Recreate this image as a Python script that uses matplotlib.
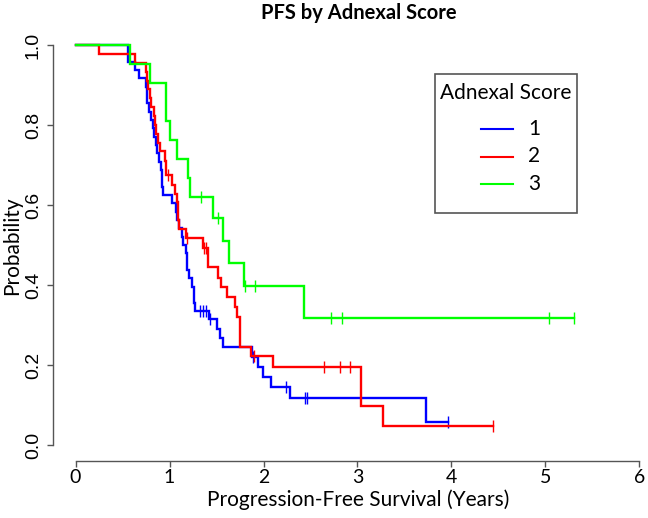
import numpy as np
import matplotlib
matplotlib.use("Agg")
import matplotlib.pyplot as plt
from matplotlib.patches import Rectangle
from matplotlib.lines import Line2D

# Kaplan-Meier step curves (time in years, survival after each drop)
blue_t = [0.56, 0.635, 0.68, 0.745, 0.755, 0.765, 0.78, 0.80, 0.82, 0.84, 0.855, 0.87,
          0.885, 0.905, 0.915, 0.925, 0.935, 1.03, 1.065, 1.08, 1.10, 1.135, 1.14, 1.17,
          1.185, 1.21, 1.24, 1.265, 1.275, 1.425, 1.50, 1.535, 1.565, 1.875, 1.94, 1.99,
          2.075, 2.28, 3.73]
blue_s = [0.958, 0.9375, 0.917, 0.896, 0.875, 0.854, 0.833, 0.8125, 0.792, 0.771, 0.75,
          0.729, 0.708, 0.6875, 0.667, 0.646, 0.625, 0.604, 0.583, 0.5625, 0.542, 0.521,
          0.50, 0.479, 0.4375, 0.417, 0.396, 0.354, 0.336, 0.315, 0.29, 0.268, 0.244,
          0.221, 0.195, 0.171, 0.146, 0.117, 0.058]
blue_cens = [1.32, 1.355, 1.39, 1.435, 1.89, 2.234, 2.44, 2.465, 3.96]

red_t = [0.25, 0.63, 0.745, 0.76, 0.77, 0.787, 0.80, 0.83, 0.845, 0.858, 0.875, 0.894,
         0.95, 0.96, 1.03, 1.055, 1.075, 1.09, 1.105, 1.17, 1.354, 1.407, 1.514, 1.55,
         1.61, 1.70, 1.72, 1.755, 1.87, 2.10, 3.04, 3.27]
red_s = [0.978, 0.956, 0.933, 0.911, 0.889, 0.867, 0.844, 0.822, 0.80, 0.778, 0.756,
         0.735, 0.711, 0.674, 0.65, 0.628, 0.607, 0.563, 0.540, 0.517, 0.493, 0.444,
         0.418, 0.395, 0.370, 0.345, 0.320, 0.246, 0.222, 0.194, 0.097, 0.048]
red_cens = [0.98, 1.184, 1.37, 1.39, 1.90, 2.64, 2.81, 2.92, 4.44]

green_t = [0.574, 0.787, 0.965, 1.00, 1.078, 1.195, 1.22, 1.46, 1.567, 1.628, 1.787, 2.436]
green_s = [0.952, 0.905, 0.810, 0.762, 0.714, 0.667, 0.619, 0.567, 0.510, 0.454, 0.397, 0.3175]
green_cens = [1.33, 1.52, 1.80, 1.91, 2.72, 2.84, 5.04, 5.30]

groups = ["1", "2", "3"]
colors = ["#0000ff", "#ff0000", "#00ff00"]
x_ticks = [0, 1, 2, 3, 4, 5, 6]
y_ticks = [0.0, 0.2, 0.4, 0.6, 0.8, 1.0]

W, H = 648, 518
fig = plt.figure(figsize=(W / 100, H / 100), dpi=100)
ax = fig.add_axes([53 / W, 57 / H, 609 / W, 432 / H])

curves = [(blue_t, blue_s, blue_cens), (red_t, red_s, red_cens), (green_t, green_s, green_cens)]
for (t, s, cens), col in zip(curves, colors):
    t_end = max(cens)
    xs = np.concatenate([[0.0], t, [t_end]])
    ys = np.concatenate([[1.0], s, [s[-1]]])
    ax.step(xs, ys, where="post", color=col, lw=1.7, solid_joinstyle="miter")
    levels = np.concatenate([[1.0], s])
    cy = levels[np.searchsorted(t, cens, side="right")]
    ax.plot(cens, cy, ls="none", marker="|", ms=8, mew=1.0, color=col)

ax.set_xlim(-0.24, 6.24)
ax.set_ylim(-0.04, 1.04)
for sp in ["top", "right"]:
    ax.spines[sp].set_visible(False)
ax.spines["left"].set_bounds(0, 1)
ax.spines["bottom"].set_bounds(0, 6)
for sp in ["left", "bottom"]:
    ax.spines[sp].set_color("#555555")
    ax.spines[sp].set_linewidth(1.0)

ax.set_xticks(x_ticks)
ax.set_xticklabels([str(v) for v in x_ticks], fontfamily="Lato", fontsize=14)
ax.set_yticks(y_ticks)
ax.set_yticklabels(["%.1f" % v for v in y_ticks], fontfamily="Liberation Sans",
                   fontsize=14, rotation=90, va="center")
ax.tick_params(axis="both", direction="out", length=4, width=1.0, color="#555555")
ax.tick_params(axis="x", pad=1.5)
ax.tick_params(axis="y", pad=4)

fig.text(359 / W, 1 - 13 / H, "PFS by Adnexal Score", ha="center", va="center",
         fontfamily="Lato", fontweight="bold", fontsize=14.5)
fig.text(358 / W, 1 - 500 / H, "Progression-Free Survival (Years)", ha="center",
         va="center", fontfamily="Lato", fontsize=15)
fig.text(12 / W, 1 - 246 / H, "Probability", ha="center", va="center", rotation=90,
         fontfamily="Lato", fontsize=15)

# legend box drawn by hand to match the spacing of the original
fig.patches.append(Rectangle((435 / W, 1 - 213 / H), 142 / W, 139 / H,
                             transform=fig.transFigure, fill=False,
                             edgecolor="#555555", lw=1.2))
fig.text(506 / W, 1 - 93 / H, "Adnexal Score", ha="center", va="center",
         fontfamily="Lato", fontsize=15)
for i, (g, col) in enumerate(zip(groups, colors)):
    yy = 1 - (129 + 27.5 * i) / H
    fig.lines.append(Line2D([481 / W, 513 / W], [yy, yy], transform=fig.transFigure,
                            color=col, lw=1.5))
    fig.text(528 / W, yy, g, ha="left", va="center", fontfamily="Lato", fontsize=15)

fig.savefig("out.png", dpi=100)
